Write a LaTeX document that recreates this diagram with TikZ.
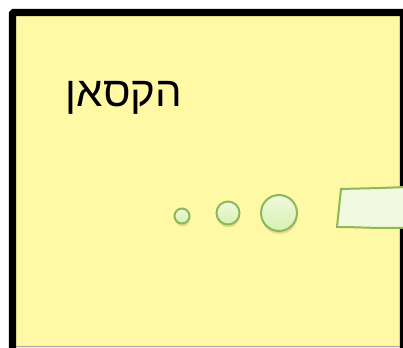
\documentclass[tikz,border=0pt]{standalone}
\usepackage{fontspec}
\newfontfamily\hebfont[Script=Hebrew]{Liberation Sans}
\TeXXeTstate=1
\usetikzlibrary{shadings}
\definecolor{boxfill}{HTML}{FFF9A5}
\definecolor{bubfill}{HTML}{EEF9DC}
\definecolor{bubfilldark}{HTML}{D8F0B4}
\definecolor{bubline}{HTML}{8CB85A}
\tikzset{
  bubble/.style={circle, draw=bubline, line width=1.5pt, top color=bubfill, bottom color=bubfilldark, inner sep=0pt},
  bubshadow/.style={circle, fill=olive!60!black, opacity=0.18, inner sep=0pt},
}
\begin{document}
\begin{tikzpicture}[x=0.75pt,y=-0.75pt]
\useasboundingbox (0,0) rectangle (403,348);
\clip (0,0) rectangle (403,348);
\fill[white] (0,0) rectangle (403,348);
\draw[line width=5.6pt, fill=boxfill, rounded corners=1pt] (12.5,12.5) rectangle (403.5,360);
\draw[gray!70, line width=0.8pt] (16,346.5) -- (400,346.5);
\node[font=\hebfont\fontsize{31.5}{36}\selectfont, anchor=center, inner sep=0pt] (title) at (124,98) {\beginR הקסאן\endR};
\foreach \cx/\cy/\d/\nm in {182/216/15/b1, 228/213/23/b2, 279/213/36/b3}{
  \node[bubshadow, minimum size=\d*0.75pt] at (\cx+0.5,\cy+3) {};
  \node[bubble, minimum size=\d*0.75pt] (\nm) at (\cx,\cy) {};
}
\draw[draw=bubline, line width=1.5pt, fill=bubfill!85!white] (341,189) -- (380,188) -- (406,187) -- (406,228) -- (385,228) .. controls (370,228) and (355,227) .. (337,227) -- cycle;
\end{tikzpicture}
\end{document}
